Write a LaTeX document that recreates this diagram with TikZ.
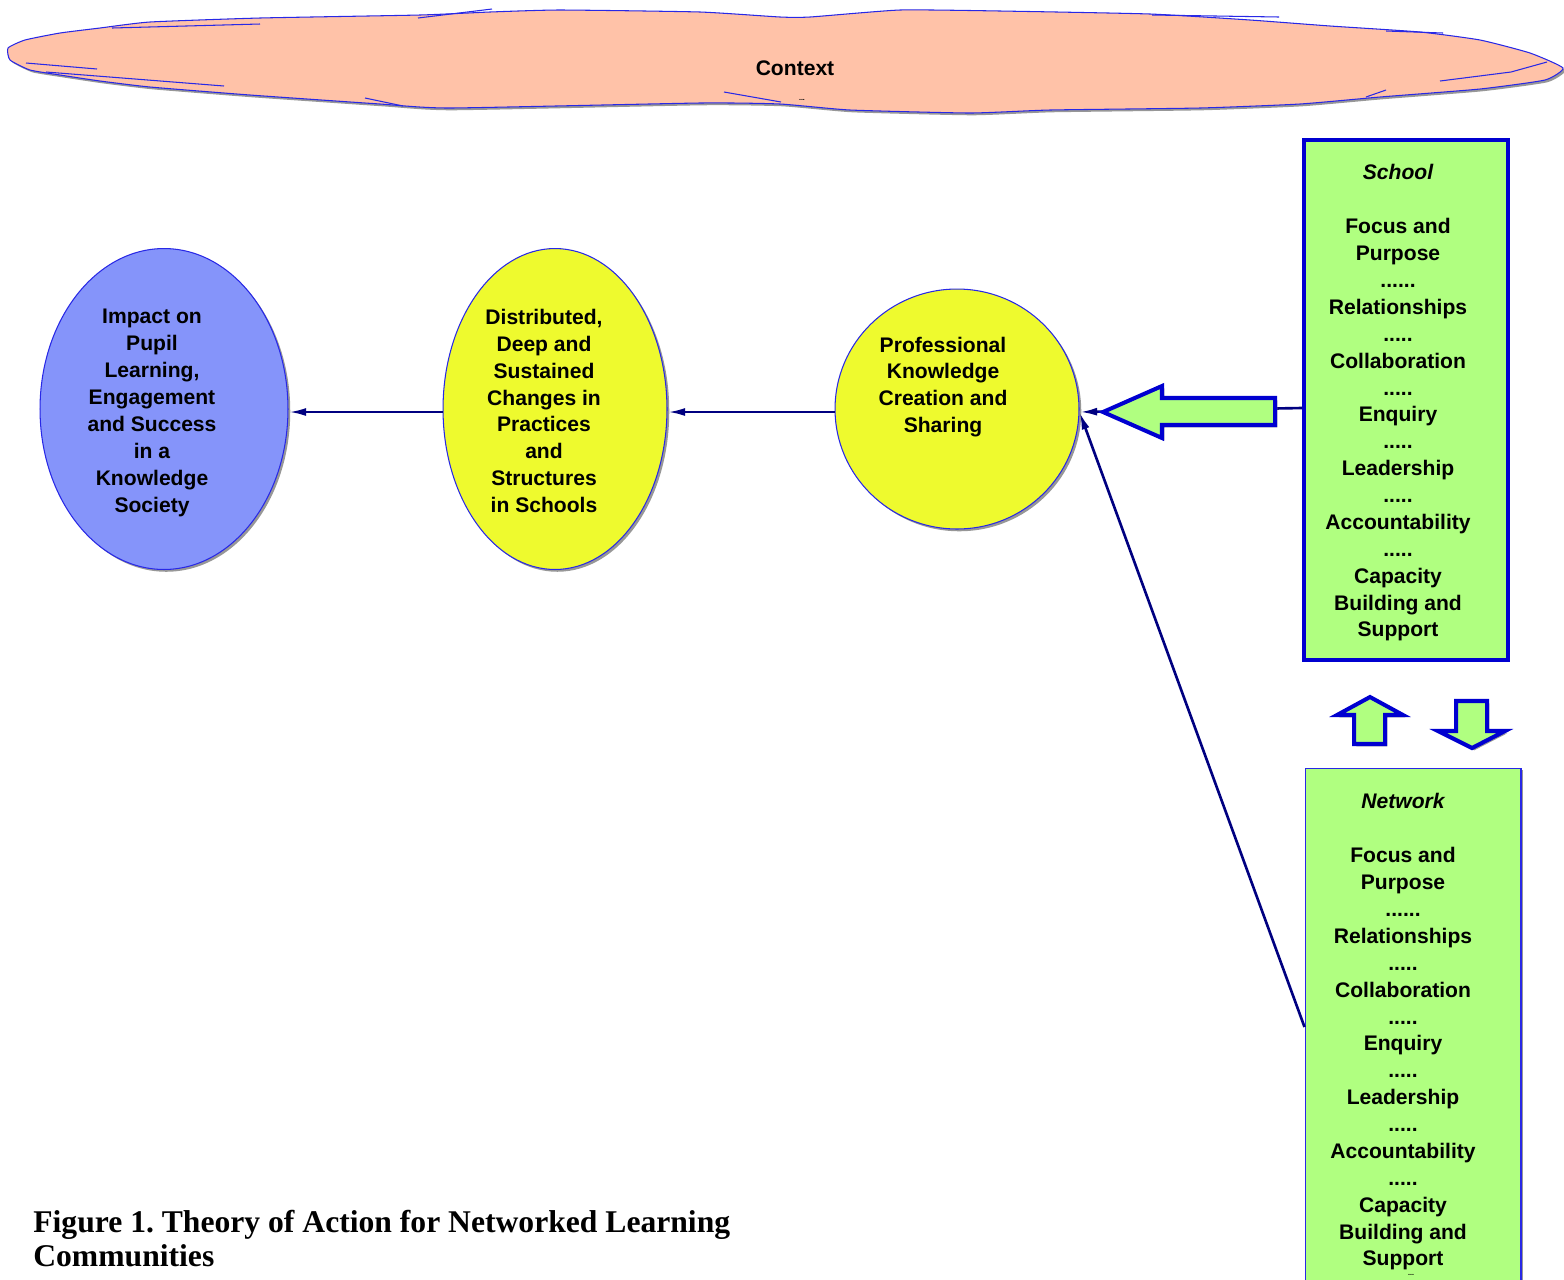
\documentclass[tikz,border=0pt]{standalone}
\usepackage{fontspec}
\setmainfont{Liberation Sans}
\newfontfamily\captionfont{Liberation Serif}
\usetikzlibrary{arrows.meta, shapes.geometric, shadows}

\begin{document}
\begin{tikzpicture}[x=0.02cm, y=-0.02cm]
    % Define colours
    \definecolor{cloudFill}{HTML}{FFC2A8}
    \definecolor{pupilFill}{HTML}{8594FA}
    \definecolor{changeFill}{HTML}{EEFA2E}
    \definecolor{boxFill}{HTML}{B0FF80}
    \definecolor{edgeBlue}{HTML}{0000D0}
    \definecolor{thinBlue}{HTML}{2828E6}
    \definecolor{linkColour}{HTML}{000080}

    % Styles for the text, the stages and the lists
    \tikzset{
      bodyText/.style={font=\bfseries\fontsize{12}{15.3}\selectfont, align=center, text=black},
      softShadow/.style={drop shadow={shadow xshift=1.3pt, shadow yshift=-1.3pt, fill=black!45, opacity=0.9}},
      stage/.style={ellipse, draw=thinBlue, line width=0.6pt, inner sep=0pt, softShadow},
      listBox/.style={rectangle, inner sep=0pt, fill=boxFill, softShadow},
      link/.style={draw=linkColour, line width=1.5pt, -{Latex[length=10pt, width=4.5pt]}},
      fatArrow/.style={fill=boxFill, draw=edgeBlue, line width=2.3pt, line join=miter, softShadow}
    }

    % Fix the page size
    \useasboundingbox (0,0) rectangle (1564,1279);

    % Draw the context cloud
    \filldraw[fill=cloudFill, draw=thinBlue, line width=0.6pt, softShadow]
      plot[smooth cycle, tension=0.3] coordinates {
        (8,48) (25,40) (60,33) (100,28) (150,22) (260,18) (420,15) (490,12)
        (560,10) (700,12) (780,17) (810,17) (900,10) (1000,11) (1150,14)
        (1250,20) (1330,26) (1420,32) (1480,40) (1530,53) (1563,68)
        (1545,80) (1480,89) (1380,97) (1300,104) (1200,108) (1050,110)
        (970,113) (850,110) (780,104) (700,103) (450,108) (380,104)
        (250,95) (150,87) (100,81) (60,75) (30,70) (10,60)};
    % Stray strokes of the cloud
    \draw[thinBlue, line width=0.6pt] (418,18) -- (492,9);
    \draw[thinBlue, line width=0.6pt] (112,28) -- (260,24);
    \draw[thinBlue, line width=0.6pt] (26,63) -- (97,69);
    \draw[thinBlue, line width=0.6pt] (46,72) -- (224,86);
    \draw[thinBlue, line width=0.6pt] (365,98) -- (403,106);
    \draw[thinBlue, line width=0.6pt] (724,92) -- (781,102);
    \draw[thinBlue, line width=0.6pt] (1152,15) -- (1279,17);
    \draw[thinBlue, line width=0.6pt] (1386,31) -- (1443,33);
    \draw[thinBlue, line width=0.6pt] (1440,81) -- (1511,72) -- (1547,62);
    \draw[thinBlue, line width=0.6pt] (1366,97) -- (1386,90);

    \node[bodyText] (context) at (795,68) {Context};
    \node[font=\bfseries\fontsize{4}{4}\selectfont, inner sep=0pt] (contextDots) at (802,100) {...};

    % Draw the three stages
    \node[stage, fill=pupilFill, minimum width=4.96cm, minimum height=6.42cm] (pupil) at (164,409) {};
    \node[stage, fill=changeFill, minimum width=4.48cm, minimum height=6.42cm] (changes) at (555,409) {};
    \node[stage, fill=changeFill, minimum width=4.88cm, minimum height=4.8cm] (knowledge) at (957,409) {};

    \node[bodyText] (pupilText) at (152,413)
      {Impact on\\Pupil\\Learning,\\Engagement\\and Success\\in a\\Knowledge\\Society};
    \node[bodyText] (changesText) at (544,411)
      {Distributed,\\Deep and\\Sustained\\Changes in\\Practices\\and\\Structures\\in Schools};
    \node[bodyText] (knowledgeText) at (943,387)
      {Professional\\Knowledge\\Creation and\\Sharing};

    % Draw the school and network lists
    \node[listBox, draw=edgeBlue, line width=2.3pt, minimum width=4.08cm, minimum height=10.4cm] (school) at (1406,400) {};
    \node[listBox, draw=thinBlue, line width=0.6pt, minimum width=4.32cm, minimum height=10.36cm] (network) at (1413,1027) {};

    \node[bodyText] (schoolText) at (1398,403)
      {\itshape School\\[15.3pt]
       Focus and\\Purpose\\......\\Relationships\\.....\\Collaboration\\.....\\Enquiry\\.....\\
       Leadership\\.....\\Accountability\\.....\\Capacity\\Building and\\Support};
    \node[bodyText] (networkText) at (1403,1032)
      {\itshape Network\\[15.3pt]
       Focus and\\Purpose\\......\\Relationships\\.....\\Collaboration\\.....\\Enquiry\\.....\\
       Leadership\\.....\\Accountability\\.....\\Capacity\\Building and\\Support};
    \node[font=\bfseries\fontsize{4}{4}\selectfont, inner sep=0pt] (networkDots) at (1411,1275) {...};

    % Connect the stages
    \draw[link] ([yshift=-0.06cm]knowledge.west) -- ([yshift=-0.06cm]changes.east);
    \draw[link] ([yshift=-0.06cm]changes.west) -- ([yshift=-0.06cm]pupil.east);
    \draw[link] ([yshift=-0.16cm]school.west) -- ([yshift=-0.06cm]knowledge.east);
    \draw[link] (network.west) -- ([yshift=-0.06cm]knowledge.east);

    % Fat arrows
    \filldraw[fatArrow] (1103,412) -- (1162,386) -- (1162,398) -- (1275,398) -- (1275,425)
      -- (1162,425) -- (1162,438) -- cycle;
    \filldraw[fatArrow] (1370,697) -- (1403,715) -- (1385,715) -- (1385,744) -- (1354,744)
      -- (1354,715) -- (1337,715) -- cycle;
    \filldraw[fatArrow] (1472,748) -- (1505,731) -- (1487,731) -- (1487,701) -- (1456,701)
      -- (1456,731) -- (1438,731) -- cycle;

    % Caption
    \node[anchor=north west, align=left, inner sep=0pt,
          font=\captionfont\bfseries\fontsize{18}{19.3}\selectfont\frenchspacing] (caption) at (33,1210)
      {Figure 1. Theory of Action for Networked Learning\\Communities};
\end{tikzpicture}
\end{document}
